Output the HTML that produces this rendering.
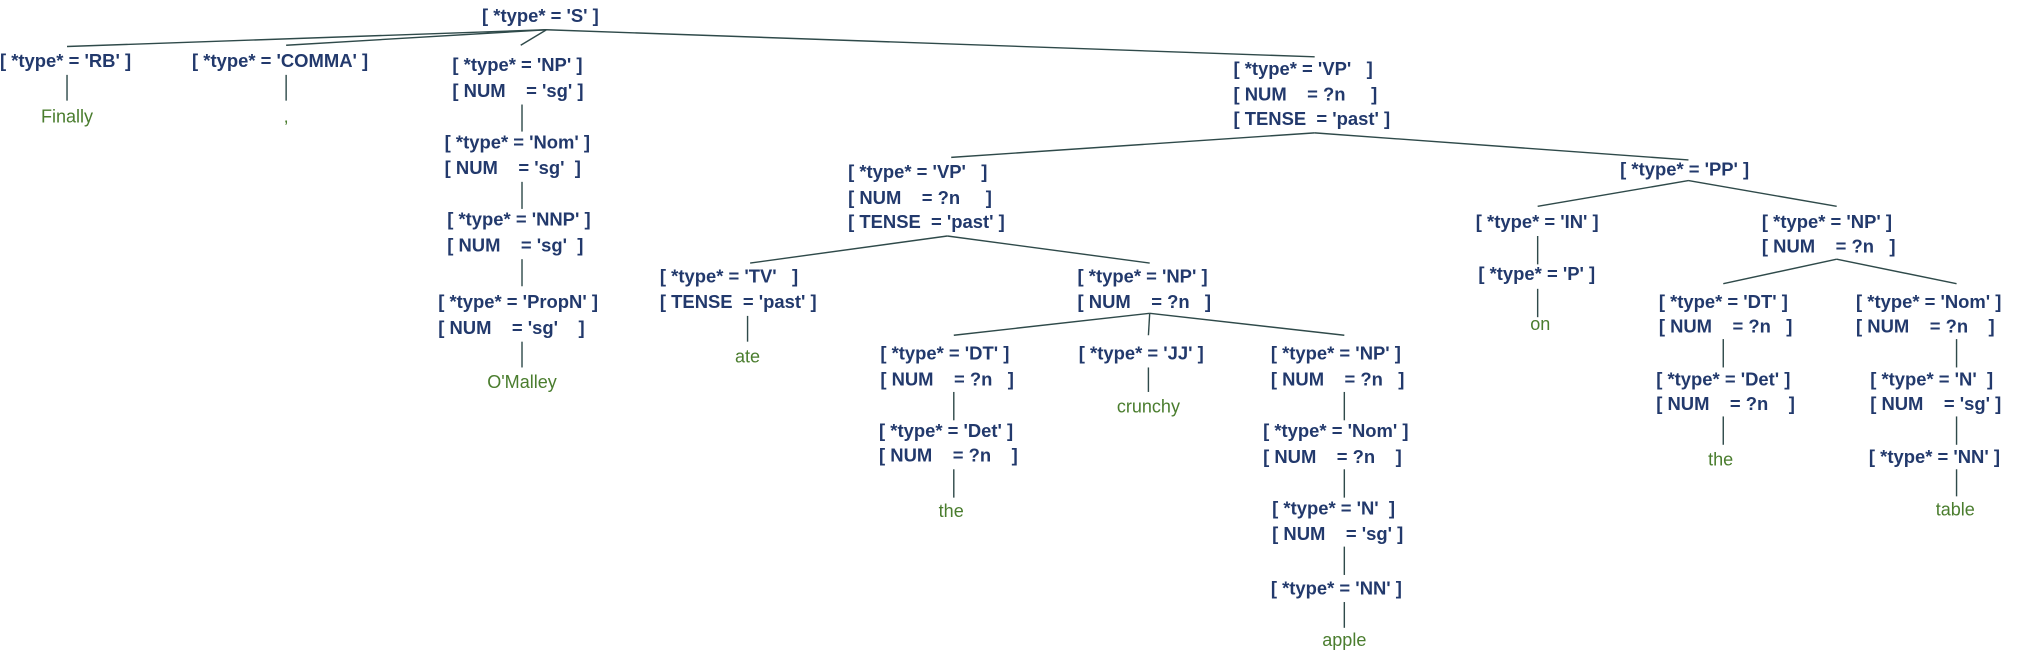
<!DOCTYPE html>
<html><head><meta charset="utf-8"><style>
html,body{margin:0;padding:0;background:#fff;width:2021px;height:655px;overflow:hidden}
svg{display:block}
.n{font-family:"Liberation Sans",sans-serif;font-weight:bold;font-size:14.3px;fill:#22396c;white-space:pre}
.w{font-family:"Liberation Sans",sans-serif;font-size:14px;fill:#4a7d2e;text-anchor:middle}
line{stroke:#2f4a4a;stroke-width:1.1}
</style></head><body>
<svg width="2021" height="655" viewBox="0 0 1568 508" xmlns="http://www.w3.org/2000/svg" xml:space="preserve">
<line x1="424" y1="23" x2="52" y2="36"/>
<line x1="424" y1="23" x2="222" y2="35"/>
<line x1="424" y1="23" x2="404" y2="35"/>
<line x1="424" y1="23" x2="1020" y2="44"/>
<line x1="52" y1="58" x2="52" y2="78"/>
<line x1="222" y1="58" x2="222" y2="78"/>
<line x1="405" y1="81" x2="405" y2="102"/>
<line x1="405" y1="141" x2="405" y2="162"/>
<line x1="405" y1="201" x2="405" y2="222"/>
<line x1="405" y1="265" x2="405" y2="285"/>
<line x1="1020" y1="103" x2="738" y2="122"/>
<line x1="1020" y1="103" x2="1310" y2="124"/>
<line x1="735" y1="183" x2="582" y2="204"/>
<line x1="735" y1="183" x2="892" y2="204"/>
<line x1="580" y1="245" x2="580" y2="265"/>
<line x1="892" y1="243" x2="740" y2="260"/>
<line x1="892" y1="243" x2="891" y2="260"/>
<line x1="892" y1="243" x2="1043" y2="260"/>
<line x1="740" y1="304" x2="740" y2="326"/>
<line x1="740" y1="364" x2="740" y2="386"/>
<line x1="891" y1="285" x2="891" y2="304"/>
<line x1="1043" y1="304" x2="1043" y2="326"/>
<line x1="1043" y1="364" x2="1043" y2="386"/>
<line x1="1043" y1="424" x2="1043" y2="446"/>
<line x1="1043" y1="467" x2="1043" y2="487"/>
<line x1="1310" y1="140" x2="1193" y2="160"/>
<line x1="1310" y1="140" x2="1425" y2="160"/>
<line x1="1193" y1="183" x2="1193" y2="205"/>
<line x1="1193" y1="224" x2="1193" y2="246"/>
<line x1="1425" y1="201" x2="1337" y2="220"/>
<line x1="1425" y1="201" x2="1518" y2="220"/>
<line x1="1337" y1="263" x2="1337" y2="285"/>
<line x1="1337" y1="323" x2="1337" y2="345"/>
<line x1="1518" y1="263" x2="1518" y2="285"/>
<line x1="1518" y1="323" x2="1518" y2="345"/>
<line x1="1518" y1="364" x2="1518" y2="385"/>
<text class="n" x="374" y="17">[ *type* = 'S' ]</text>
<text class="n" x="0" y="52">[ *type* = 'RB' ]</text>
<text class="w" x="52" y="95">Finally</text>
<text class="n" x="149" y="52">[ *type* = 'COMMA' ]</text>
<text class="w" x="222" y="95">,</text>
<text class="n" x="351" y="55">[ *type* = 'NP' ]</text>
<text class="n" x="351" y="75">[ NUM    = 'sg' ]</text>
<text class="n" x="345" y="115">[ *type* = 'Nom' ]</text>
<text class="n" x="345" y="135">[ NUM    = 'sg'  ]</text>
<text class="n" x="347" y="175">[ *type* = 'NNP' ]</text>
<text class="n" x="347" y="195">[ NUM    = 'sg'  ]</text>
<text class="n" x="340" y="239">[ *type* = 'PropN' ]</text>
<text class="n" x="340" y="259">[ NUM    = 'sg'    ]</text>
<text class="w" x="405" y="301">O'Malley</text>
<text class="n" x="957" y="58">[ *type* = 'VP'   ]</text>
<text class="n" x="957" y="78">[ NUM    = ?n     ]</text>
<text class="n" x="957" y="97">[ TENSE  = 'past' ]</text>
<text class="n" x="658" y="138">[ *type* = 'VP'   ]</text>
<text class="n" x="658" y="158">[ NUM    = ?n     ]</text>
<text class="n" x="658" y="177">[ TENSE  = 'past' ]</text>
<text class="n" x="512" y="219">[ *type* = 'TV'   ]</text>
<text class="n" x="512" y="239">[ TENSE  = 'past' ]</text>
<text class="w" x="580" y="281">ate</text>
<text class="n" x="836" y="219">[ *type* = 'NP' ]</text>
<text class="n" x="836" y="239">[ NUM    = ?n   ]</text>
<text class="n" x="683" y="279">[ *type* = 'DT' ]</text>
<text class="n" x="683" y="299">[ NUM    = ?n   ]</text>
<text class="n" x="682" y="339">[ *type* = 'Det' ]</text>
<text class="n" x="682" y="358">[ NUM    = ?n    ]</text>
<text class="w" x="738" y="401">the</text>
<text class="n" x="837" y="279">[ *type* = 'JJ' ]</text>
<text class="w" x="891" y="320">crunchy</text>
<text class="n" x="986" y="279">[ *type* = 'NP' ]</text>
<text class="n" x="986" y="299">[ NUM    = ?n   ]</text>
<text class="n" x="980" y="339">[ *type* = 'Nom' ]</text>
<text class="n" x="980" y="359">[ NUM    = ?n    ]</text>
<text class="n" x="987" y="399">[ *type* = 'N'  ]</text>
<text class="n" x="987" y="419">[ NUM    = 'sg' ]</text>
<text class="n" x="986" y="461">[ *type* = 'NN' ]</text>
<text class="w" x="1043" y="501">apple</text>
<text class="n" x="1257" y="136">[ *type* = 'PP' ]</text>
<text class="n" x="1145" y="177">[ *type* = 'IN' ]</text>
<text class="n" x="1147" y="217">[ *type* = 'P' ]</text>
<text class="w" x="1195" y="256">on</text>
<text class="n" x="1367" y="177">[ *type* = 'NP' ]</text>
<text class="n" x="1367" y="196">[ NUM    = ?n   ]</text>
<text class="n" x="1287" y="239">[ *type* = 'DT' ]</text>
<text class="n" x="1287" y="258">[ NUM    = ?n   ]</text>
<text class="n" x="1285" y="299">[ *type* = 'Det' ]</text>
<text class="n" x="1285" y="318">[ NUM    = ?n    ]</text>
<text class="w" x="1335" y="361">the</text>
<text class="n" x="1440" y="239">[ *type* = 'Nom' ]</text>
<text class="n" x="1440" y="258">[ NUM    = ?n    ]</text>
<text class="n" x="1451" y="299">[ *type* = 'N'  ]</text>
<text class="n" x="1451" y="318">[ NUM    = 'sg' ]</text>
<text class="n" x="1450" y="359">[ *type* = 'NN' ]</text>
<text class="w" x="1517" y="400">table</text>
</svg>
</body></html>
